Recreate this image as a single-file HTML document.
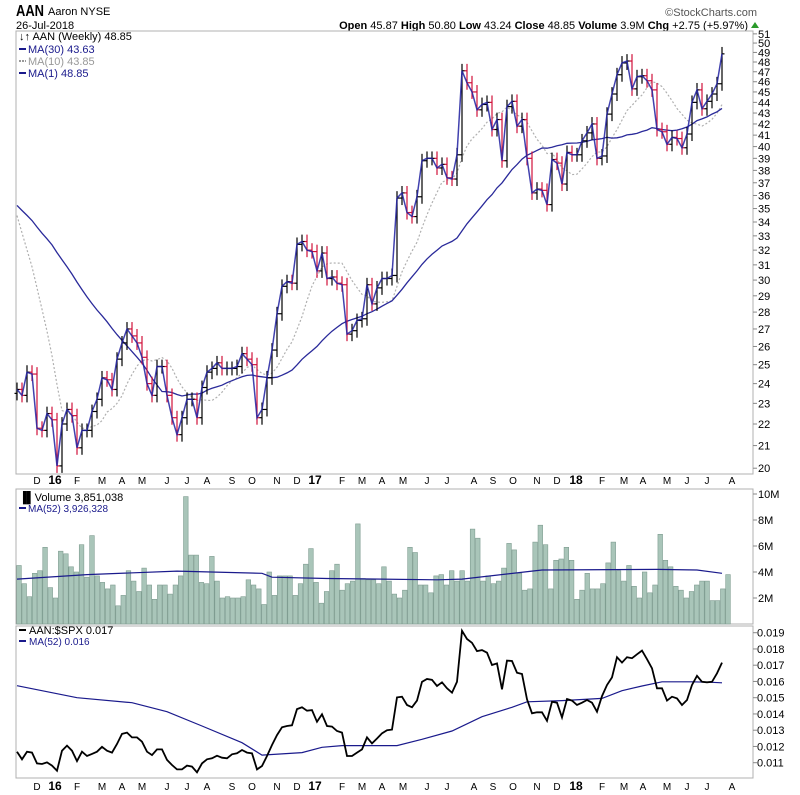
<!DOCTYPE html>
<html><head><meta charset="utf-8"><style>
html,body{margin:0;padding:0;background:#fff;}
svg{display:block;font-family:"Liberation Sans",Arial,sans-serif;}
</style></head><body>
<svg id="chart" width="800" height="795" viewBox="0 0 800 795">
  <g>
    <text x="16" y="16" font-size="16" font-weight="bold" textLength="28" lengthAdjust="spacingAndGlyphs">AAN</text>
    <text x="48" y="15" font-size="11">Aaron NYSE</text>
    <text x="16" y="29" font-size="11">26-Jul-2018</text>
    <text x="757" y="16" font-size="11" fill="#555" text-anchor="end">©StockCharts.com</text>
    <text x="748" y="29" font-size="11" text-anchor="end"><tspan font-weight="bold">Open</tspan> 45.87 <tspan font-weight="bold">High</tspan> 50.80 <tspan font-weight="bold">Low</tspan> 43.24 <tspan font-weight="bold">Close</tspan> 48.85 <tspan font-weight="bold">Volume</tspan> 3.9M <tspan font-weight="bold">Chg</tspan> +2.75 (+5.97%)</text>
    <path d="M751,28 L755,22 L759,28 Z" fill="#2a9a2a"/>
  </g>
  <rect x="16" y="31" width="737" height="443" fill="#fff" stroke="#b0b0b0"/>
  <rect x="16" y="489" width="737" height="135" fill="#fff" stroke="#b0b0b0"/>
  <rect x="16" y="626" width="737" height="152" fill="#fff" stroke="#b0b0b0"/>
  <g id="priceG"></g>
  <g id="volG"></g>
  <g id="ratioG"></g>
  <g id="axesG"></g>
  <g font-size="11">
    <text x="19" y="40">↓↑ AAN (Weekly) 48.85</text>
    <line x1="19" y1="49" x2="26" y2="49" stroke="#1a1a8c" stroke-width="2"/>
    <text x="28" y="53" fill="#1a1a8c">MA(30) 43.63</text>
    <line x1="19" y1="61" x2="26" y2="61" stroke="#999" stroke-width="2" stroke-dasharray="2,1"/>
    <text x="28" y="65" fill="#999">MA(10) 43.85</text>
    <line x1="19" y1="73" x2="26" y2="73" stroke="#1a1a8c" stroke-width="2"/>
    <text x="28" y="77" fill="#1a1a8c">MA(1) 48.85</text>
  </g>
  <g font-size="11">
    <text x="19" y="501">▐▌Volume 3,851,038</text>
    <line x1="19" y1="508" x2="26" y2="508" stroke="#1a1a8c" stroke-width="2"/>
    <text x="28" y="512" fill="#1a1a8c" font-size="10">MA(52) 3,926,328</text>
  </g>
  <g font-size="11">
    <line x1="19" y1="630" x2="26" y2="630" stroke="#000" stroke-width="2"/>
    <text x="29" y="634">AAN:$SPX 0.017</text>
    <line x1="19" y1="641" x2="26" y2="641" stroke="#1a1a8c" stroke-width="2"/>
    <text x="29" y="645" fill="#1a1a8c" font-size="10">MA(52) 0.016</text>
  </g>
</svg>
<script>
const closes = [23.7,23.4,24.6,24.5,21.8,21.7,22.5,22.2,20.1,22.0,
22.7,22.4,20.9,21.7,21.7,22.6,23.2,24.3,24.2,23.7,
25.3,26.2,27.0,26.6,26.2,25.4,24.0,23.4,24.9,24.9,
23.4,22.3,21.5,22.3,23.2,23.2,22.3,23.8,24.6,24.8,
25.1,24.8,24.8,24.8,24.9,25.6,25.3,25.0,22.3,22.7,
24.3,25.8,27.9,29.6,29.9,29.8,32.4,32.6,32.0,31.9,
30.6,31.8,30.1,30.2,29.8,29.7,26.7,26.9,27.5,27.6,
29.7,28.5,29.5,30.1,30.1,30.3,35.8,36.2,34.7,34.4,
35.9,38.8,39.0,39.0,38.2,38.5,37.4,37.3,39.3,47.1,
45.9,45.0,43.3,43.8,44.0,41.5,42.4,38.8,43.6,44.1,
41.8,42.4,39.0,36.2,36.5,36.4,35.3,38.9,38.6,36.9,
39.5,39.3,39.3,40.5,41.2,42.0,39.0,39.2,42.9,44.8,
46.7,47.9,48.1,45.3,46.5,46.6,46.1,45.2,41.5,41.3,
40.2,40.8,40.7,39.9,41.1,44.0,45.2,43.4,44.1,44.8,
45.8,48.85];
const priorCloses = [35,35.5,36,36,35,34.5,35,36,36.5,37,37,36.5,36,35.5,35,35,34.5,35,35.5,36,36,36.5,36,35.5,35,35.5,36,35.5,35];
const volumes = [4.5,3.1,2.1,3.9,4.1,5.9,2.8,2.0,5.6,5.4,4.4,4.0,6.1,3.6,6.8,3.7,3.2,2.7,3.0,1.4,
2.2,4.1,3.3,2.5,4.3,3.0,1.9,3.0,3.0,2.3,3.0,3.7,9.8,5.3,5.3,3.2,3.1,5.2,3.3,2.0,
2.1,2.0,2.0,2.1,3.4,3.0,2.7,1.5,4.0,2.2,3.7,3.7,3.7,2.2,3.1,4.6,5.8,3.2,1.6,2.5,
4.1,4.6,2.6,3.1,3.3,7.7,3.5,3.4,3.4,3.1,4.4,3.3,2.3,2.0,2.6,5.9,5.5,3.0,3.0,2.4,
3.7,3.8,3.0,4.1,3.3,4.1,3.3,7.3,6.6,3.3,3.7,3.1,3.3,4.3,6.2,5.7,3.9,2.6,2.7,6.3,
7.6,6.1,2.7,4.9,5.0,5.9,4.9,1.9,2.6,3.9,2.7,2.7,3.1,4.7,6.3,4.1,3.3,4.5,2.9,2.0,
4.0,2.4,3.0,6.9,4.9,4.4,2.9,2.6,2.0,2.5,3.0,3.3,3.3,1.8,1.8,2.7,3.8];
const volMaWeeks = [0,14,32,49,51,62,84,89,103,105,128,136,141];
const volMaValues = [3.45,3.8,4.07,3.9,3.6,3.5,3.4,3.45,4.07,4.15,4.2,4.15,3.9];
const ratios = [11.68,11.21,11.68,11.62,10.96,10.92,11.02,10.82,10.51,11.74,
12.05,11.74,11.1,11.68,11.41,11.54,11.68,11.98,11.74,11.62,
12.15,12.77,12.85,12.56,12.56,12.29,11.68,11.47,11.82,11.82,
11.17,10.86,10.59,10.59,10.82,10.76,10.41,10.96,11.21,11.27,
11.43,11.31,11.27,11.52,11.58,11.78,11.62,11.58,10.59,10.8,
11.41,12.09,12.7,13.18,13.26,13.3,14.3,14.41,14.2,14.24,
13.52,13.98,13.26,13.22,12.95,12.85,11.41,11.41,11.62,11.82,
12.56,12.19,12.49,12.81,13.0,13.04,15.02,15.06,14.55,14.41,
14.82,15.98,16.15,16.1,15.72,15.95,15.58,15.31,15.98,19.12,
18.61,18.38,17.87,17.93,17.77,17.01,17.11,15.52,17.28,17.26,
16.54,16.46,14.9,14.04,14.1,14.1,13.58,14.75,14.69,13.79,
14.92,14.82,14.55,14.69,14.86,14.69,14.14,15.1,15.78,16.25,
17.49,17.16,17.49,17.43,17.67,17.9,17.37,16.81,15.58,15.58,
14.82,15.06,14.96,14.55,14.86,15.78,16.35,15.98,15.95,15.98,
16.5,17.16];
const ratioMaWeeks = [0,12,23,30,37,45,49,57,61,65,76,81,87,93,99,102,109,117,121,125,129,135,139,141];
const ratioMaValues = [15.74,15.0,14.69,14.14,13.26,12.23,11.47,11.62,11.95,12.05,12.05,12.44,12.95,13.83,14.41,14.75,14.82,14.96,15.43,15.72,15.98,15.98,15.95,15.92];
const priceTicks = [20,21,22,23,24,25,26,27,28,29,30,31,32,33,34,35,36,37,38,39,40,41,42,43,44,45,46,47,48,49,50,51];
const volTicks = [2,4,6,8,10];
const ratioTicks = [11,12,13,14,15,16,17,18,19];
const monthLabels = ["D","16","F","M","A","M","J","J","A","S","O","N","D","17","F","M","A","M","J","J","A","S","O","N","D","18","F","M","A","M","J","J","A"];
const monthWeeks = [4,7.6,12,17,21,25,30,34,38,43,47,52,56,59.6,65,69,73,77.2,82,86,91.4,95.2,99.2,104,108,111.8,117,121.4,125.2,130,134,138,143];

const NS="http://www.w3.org/2000/svg";
function xAt(i){return 17+5*i;}
function xVol(i){return 19+i*(709/(volumes.length-1));}
function yPrice(p){return 222+464*Math.log(34/p);}
function yVol(v){return 624-13*v;}
function yRatio(r){return 632.7+(19-r)*16.25;}
function mk(tag,attrs,parent){const e=document.createElementNS(NS,tag);for(const k in attrs)e.setAttribute(k,attrs[k]);parent.appendChild(e);return e;}

const priceG=document.getElementById('priceG');
const volG=document.getElementById('volG');
const ratioG=document.getElementById('ratioG');
const axesG=document.getElementById('axesG');

const all=priorCloses.concat(closes);
function ma(n,i){const k=i+priorCloses.length;let s=0,c=0;for(let j=Math.max(0,k-n+1);j<=k;j++){s+=all[j];c++;}return s/c;}
let p30='',p10='',p1='';
closes.forEach((c,i)=>{
  p30+=(i?'L':'M')+xAt(i)+','+yPrice(ma(30,i)).toFixed(1);
  p10+=(i?'L':'M')+xAt(i)+','+yPrice(ma(10,i)).toFixed(1);
  p1+=(i?'L':'M')+xAt(i)+','+yPrice(c).toFixed(1);
});
let ma10=mk('path',{d:p10,fill:'none',stroke:'#b0b0b0','stroke-width':1.2,'stroke-dasharray':'2,2'},priceG);


let ma30=mk('path',{d:p30,fill:'none',stroke:'#2a2a9a','stroke-width':1.3},priceG);



closes.forEach((c,i)=>{
  const o=i?closes[i-1]:23.5;
  const col=c<o?'#d0103a':'#000';
  const x=xAt(i);
  const g=mk('g',{stroke:col,'stroke-width':1.2},priceG);
  
  
  const hi=Math.max(o,c)*1.015, lo=Math.min(o,c)*0.985;
  mk('line',{x1:x,x2:x,y1:yPrice(hi),y2:yPrice(lo)},g);
  mk('line',{x1:x-2.5,x2:x,y1:yPrice(o),y2:yPrice(o)},g);
  mk('line',{x1:x,x2:x+2.5,y1:yPrice(c),y2:yPrice(c)},g);
});
let ma1=mk('path',{d:p1,fill:'none',stroke:'#2020a0','stroke-width':1.5,'stroke-opacity':0.85},priceG);



volumes.forEach((v,i)=>{
  const b=mk('rect',{x:xVol(i)-2.3,y:yVol(v),width:4.6,height:624-yVol(v),fill:'#a9c5b9',stroke:'#7e9c90','stroke-width':0.6},volG);
  
  
});
let vp='';volMaWeeks.forEach((w,k)=>{vp+=(k?'L':'M')+xAt(w)+','+yVol(volMaValues[k]).toFixed(1);});
let vma=mk('path',{d:vp,fill:'none',stroke:'#1a1a8c','stroke-width':1.2},volG);



let rm='';ratioMaWeeks.forEach((w,k)=>{rm+=(k?'L':'M')+xAt(w)+','+yRatio(ratioMaValues[k]).toFixed(1);});
let rma=mk('path',{d:rm,fill:'none',stroke:'#1a1a8c','stroke-width':1.2},ratioG);


let rp='';ratios.forEach((r,i)=>{rp+=(i?'L':'M')+xAt(i)+','+yRatio(r).toFixed(1);});
let rl=mk('path',{d:rp,fill:'none',stroke:'#000','stroke-width':1.8},ratioG);



priceTicks.forEach(p=>{
  const y=yPrice(p);
  mk('line',{x1:753,x2:757,y1:y,y2:y,stroke:'#888'},axesG);
  const t=mk('text',{x:758,y:y+4,'font-size':11},axesG);t.textContent=p;
  
  
});
volTicks.forEach(v=>{
  const y=yVol(v);
  mk('line',{x1:753,x2:757,y1:y,y2:y,stroke:'#888'},axesG);
  const t=mk('text',{x:758,y:y+4,'font-size':11},axesG);t.textContent=v+'M';
  
  
});
ratioTicks.forEach(r=>{
  const y=yRatio(r);
  mk('line',{x1:753,x2:757,y1:y,y2:y,stroke:'#888'},axesG);
  const t=mk('text',{x:757,y:y+4,'font-size':11},axesG);t.textContent='0.0'+r;
  
  
});
[484,790].forEach(yy=>{
  monthLabels.forEach((m,k)=>{
    const bold=m.length>1;
    const t=mk('text',{x:xAt(monthWeeks[k]),y:yy,'font-size':bold?12:10,'font-weight':bold?'bold':'normal','text-anchor':'middle'},axesG);
    t.textContent=m;
    
    
  });
});
</script>
</body></html>
